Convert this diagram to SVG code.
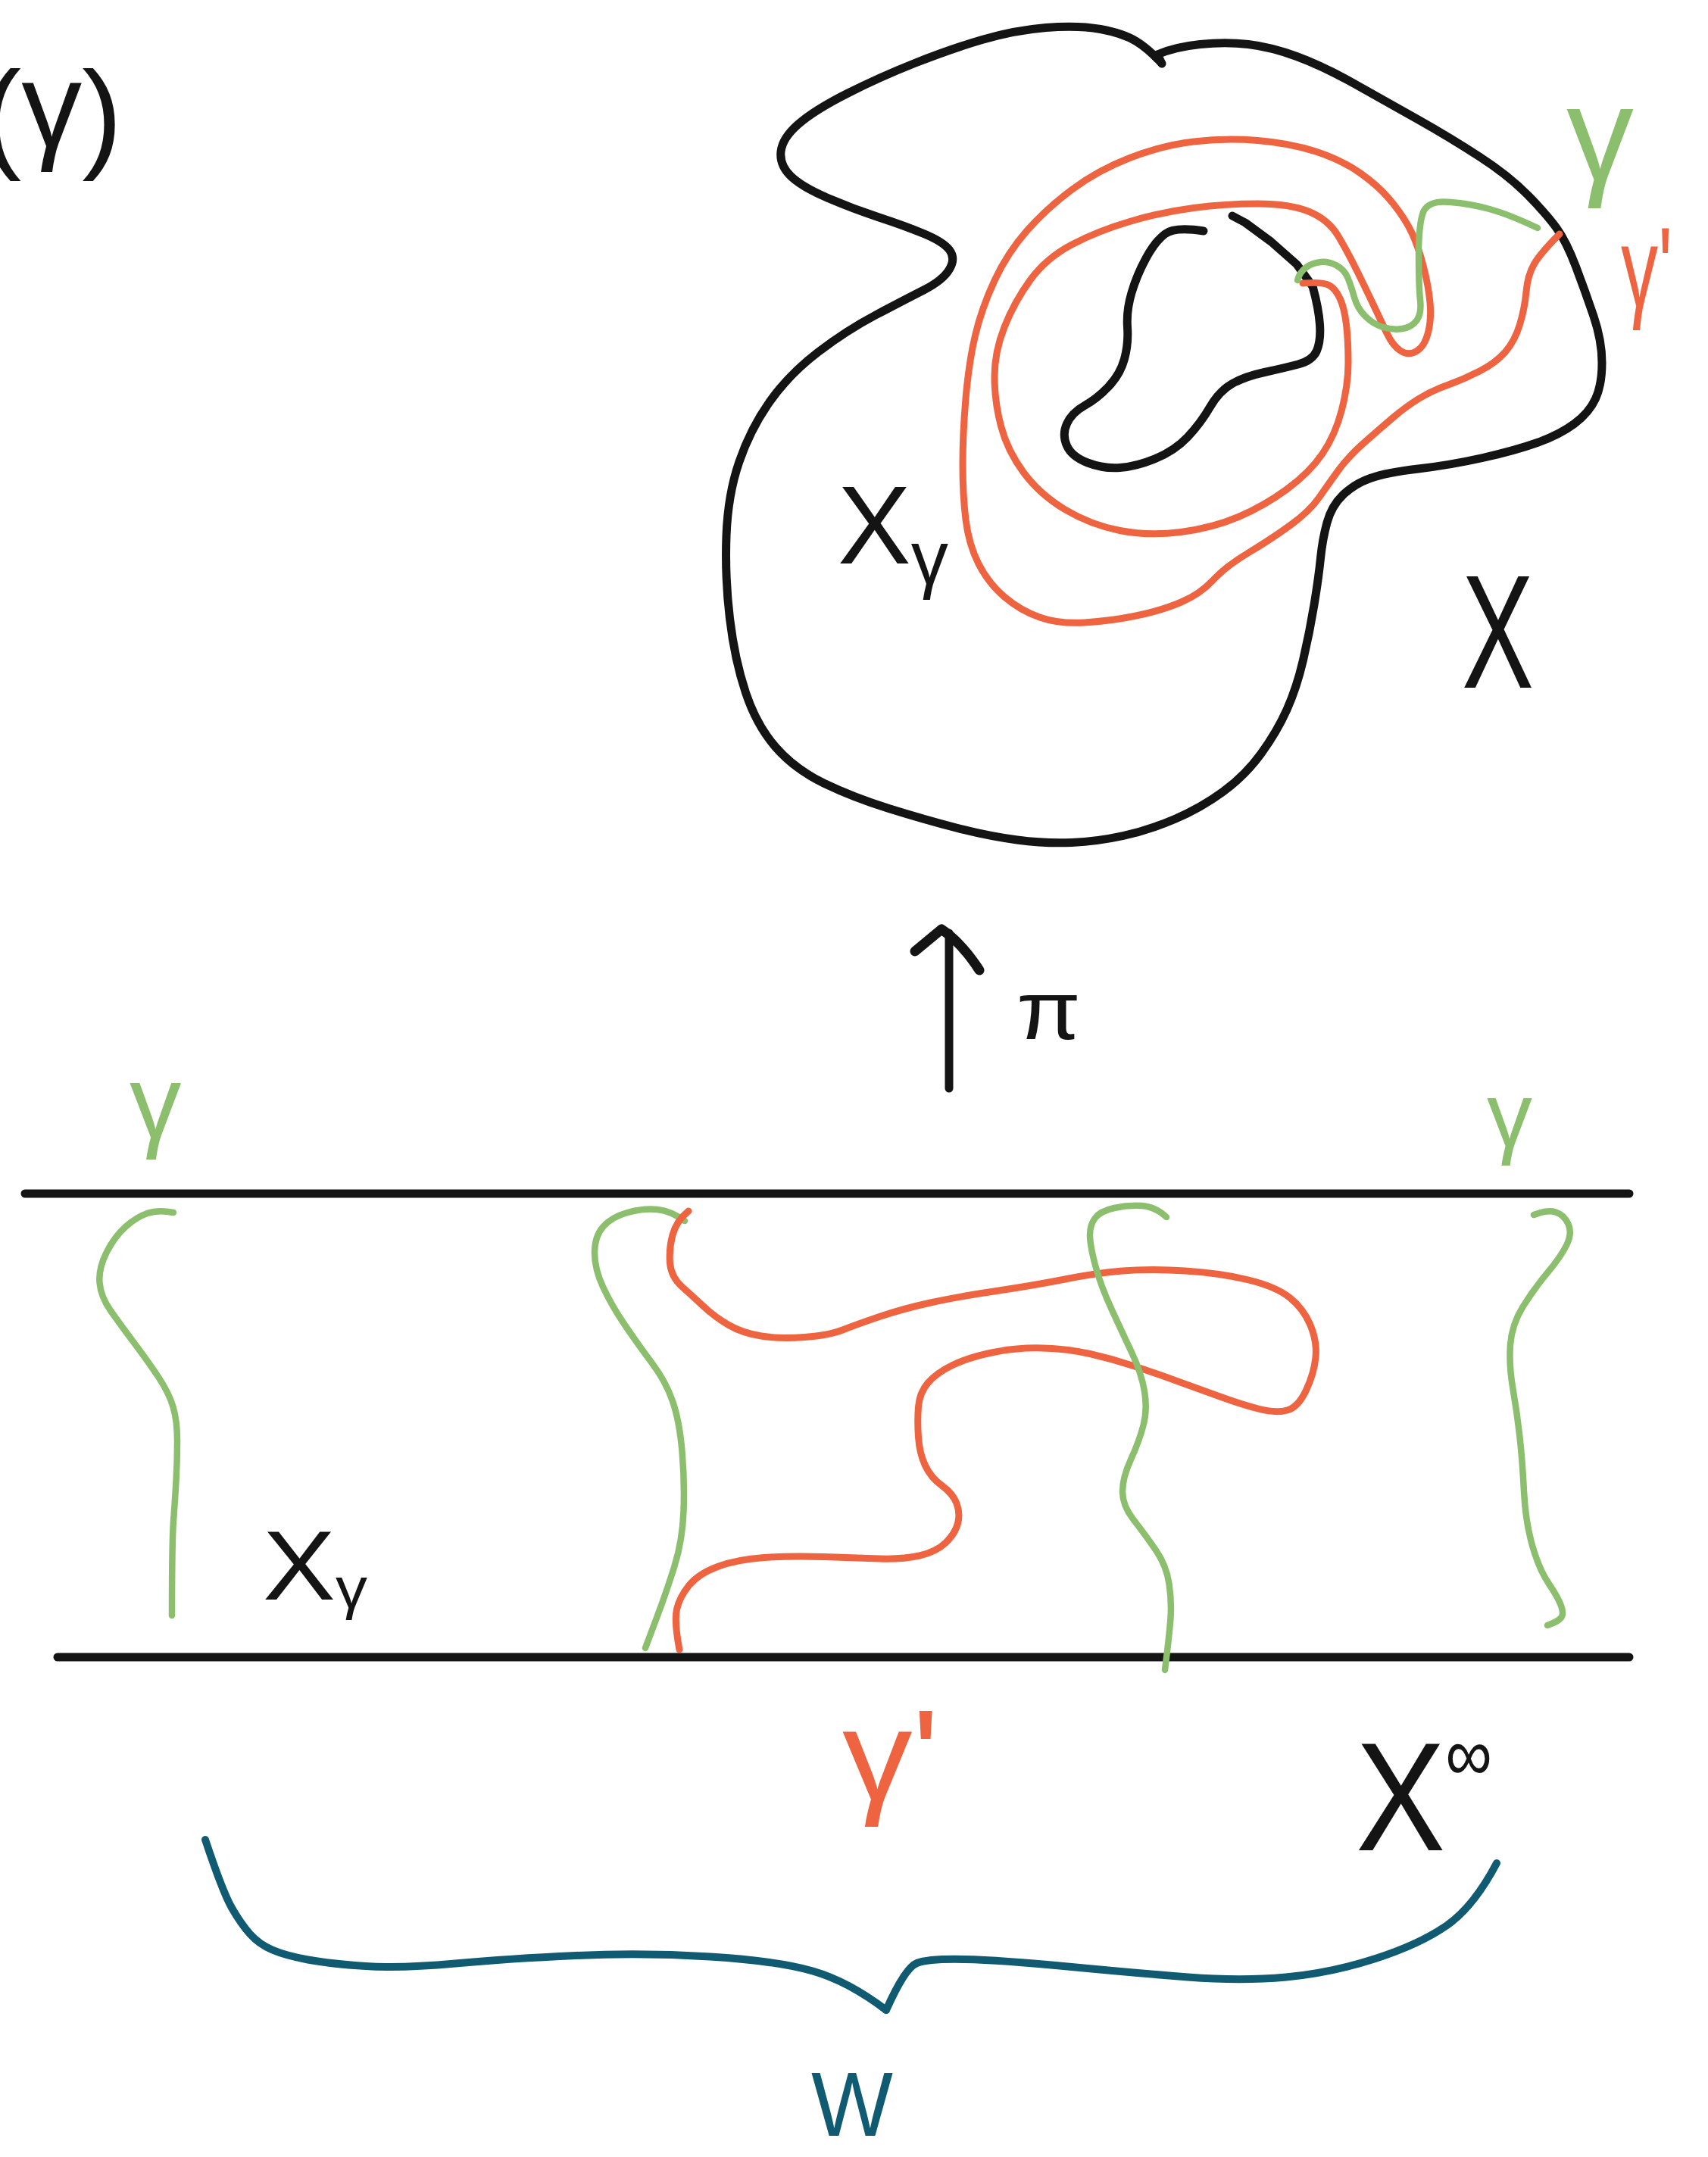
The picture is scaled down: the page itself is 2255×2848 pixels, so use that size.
<svg xmlns="http://www.w3.org/2000/svg" width="2255" height="2848" viewBox="0 0 2255 2848">
<style>
.ln{fill:none;stroke-linecap:round;stroke-linejoin:round}
.blk{stroke:#141414;stroke-width:11}
.red{stroke:#ee6441;stroke-width:9}
.grn{stroke:#8cbf6d;stroke-width:8.5}
.teal{stroke:#105b71;stroke-width:10}
.t{font-family:"Liberation Sans","DejaVu Sans",sans-serif}
.tb{fill:#141414}.tg{fill:#8cbf6d}.tr{fill:#ee6441}.tt{fill:#105b71}
</style>
<rect width="2255" height="2848" fill="#fff"/>
<text class="t tb" x="-25" y="206" font-size="160">(<tspan dy="-12">γ</tspan><tspan dy="12">)</tspan></text>
<g id="space-X">
<path class="ln blk" d="M1534,84 L1528,72 Q1551,62 1584.5,58.5 Q1618,55 1648,58.5 Q1678,62 1712,74.5 Q1746,87 1788,110.5 Q1830,134 1872.5,158 Q1915,182 1953.5,207 Q1992,232 2017,257.5 Q2042,283 2055,301 Q2068,319 2080.5,352 Q2093,385 2104,417.5 Q2115,450 2115,479 Q2115,508 2106.5,526.5 Q2098,545 2078.5,559.5 Q2059,574 2029.5,584.5 Q2000,595 1957.5,604.5 Q1915,614 1872.5,619 Q1830,624 1809,631.5 Q1788,639 1773,653.5 Q1758,668 1752,690 Q1746,712 1743.5,737 Q1741,762 1735,798.5 Q1729,835 1720.5,871.5 Q1712,908 1699,937 Q1686,966 1665,995 Q1644,1024 1614.5,1045.5 Q1585,1067 1551,1081.5 Q1517,1096 1483,1103.5 Q1449,1111 1415,1112.5 Q1381,1114 1343,1109 Q1305,1104 1262.5,1093 Q1220,1082 1173.5,1067.5 Q1127,1053 1088.5,1034.5 Q1050,1016 1024.5,987 Q999,958 984.5,914.5 Q970,871 963.5,816.5 Q957,762 959,707.5 Q961,653 976,609.5 Q991,566 1016.5,530 Q1042,494 1080,465 Q1118,436 1156,416 Q1194,396 1219.5,383 Q1245,370 1253.5,355.5 Q1262,341 1253.5,330 Q1245,319 1219.5,308.5 Q1194,298 1160.5,287 Q1127,276 1093,261.5 Q1059,247 1044,232.5 Q1029,218 1031,200 Q1033,182 1054.5,163.5 Q1076,145 1118.5,123.5 Q1161,102 1207.5,83.5 Q1254,65 1296.5,52.5 Q1339,40 1381,36.5 Q1423,33 1453,38.5 Q1483,44 1500,54.5 Q1517,65 1534,84"/>
<path class="ln blk" d="M1589,305 Q1551,299 1538,309 Q1525,319 1513,341 Q1501,363 1494,386.5 Q1487,410 1488.5,432 Q1490,454 1484.5,474 Q1479,494 1464,510 Q1449,526 1432,535.5 Q1415,545 1408.5,559.5 Q1402,574 1408.5,588.5 Q1415,603 1436,611 Q1457,619 1478.5,617.5 Q1500,616 1525.5,605.5 Q1551,595 1568,577 Q1585,559 1597.5,537.5 Q1610,516 1627,506.5 Q1644,497 1669.5,491.5 Q1695,486 1714,481 Q1733,476 1738.5,463 Q1744,450 1742.5,428.5 Q1741,407 1733,378"/>
<path class="ln blk" d="M1627,285 L1644,294 L1678,319 L1712,349 L1733,378"/>
<path class="ln red" d="M2059,309 Q2034,334 2025.5,348.5 Q2017,363 2015,385 Q2013,407 2006.5,428.5 Q2000,450 1987.5,464.5 Q1975,479 1953.5,490 Q1932,501 1911,508.5 Q1890,516 1873,526.5 Q1856,537 1839,551.5 Q1822,566 1801,584.5 Q1780,603 1767,621 Q1754,639 1741.5,657 Q1729,675 1703.5,693.5 Q1678,712 1648,730 Q1618,748 1601.5,766 Q1585,784 1559.5,795 Q1534,806 1500,813 Q1466,820 1432,822 Q1398,824 1372.5,815 Q1347,806 1326,788 Q1305,770 1292,744.5 Q1279,719 1275,686 Q1271,653 1271,613.5 Q1271,574 1275,526.5 Q1279,479 1287.5,443 Q1296,407 1313,370.5 Q1330,334 1355.5,305 Q1381,276 1415,250.5 Q1449,225 1491.5,208.5 Q1534,192 1576,187 Q1618,182 1660.5,185.5 Q1703,189 1737,200 Q1771,211 1796.5,229 Q1822,247 1839,268.5 Q1856,290 1864.5,308.5 Q1873,327 1879.5,352.5 Q1886,378 1888,399.5 Q1890,421 1885.5,439 Q1881,457 1870.5,463.5 Q1860,470 1849.5,463.5 Q1839,457 1830.5,439 Q1822,421 1813.5,403 Q1805,385 1792.5,359.5 Q1780,334 1767,312 Q1754,290 1728.5,279.5 Q1703,269 1660.5,269 Q1618,269 1576,274.5 Q1534,280 1491.5,292.5 Q1449,305 1415,323 Q1381,341 1360,370 Q1339,399 1326,432 Q1313,465 1313,497.5 Q1313,530 1321.5,562.5 Q1330,595 1351.5,624 Q1373,653 1406.5,673 Q1440,693 1478.5,700.5 Q1517,708 1559,702.5 Q1601,697 1635,682.5 Q1669,668 1699,646 Q1729,624 1746,599 Q1763,574 1771.5,541 Q1780,508 1780,479 Q1780,450 1777.5,428.5 Q1775,407 1769,394 Q1763,381 1754.5,376.5 Q1746,372 1720,374"/>
<path class="ln grn" d="M2030,301 Q1992,283 1966.5,276 Q1941,269 1915.5,267 Q1888,264 1880,278 Q1874,290 1873,327 Q1873,378 1875,396 Q1877,414 1870.5,423 Q1864,432 1851.5,434 Q1839,436 1826,432 Q1813,428 1802.5,417.5 Q1792,407 1788,392.5 Q1784,378 1779.5,367 Q1775,356 1764.5,350.5 Q1754,345 1743.5,346 Q1733,347 1724.5,353 Q1716,359 1713,370"/>
<text class="t tg" x="2068" y="238" font-size="178">γ</text>
<text class="t tr" x="2140" y="405" font-size="150" textLength="68" lengthAdjust="spacingAndGlyphs">γ'</text>
<text class="t tb" x="1106" y="744" font-size="147" textLength="146" lengthAdjust="spacingAndGlyphs">X<tspan font-size="100" dy="27">γ</tspan></text>
<text class="t tb" x="1930" y="908" font-size="214" textLength="95" lengthAdjust="spacingAndGlyphs">X</text>
</g>
<g id="connectors">
<path class="ln blk" d="M1253,1437 L1253,1232"/>
<path class="ln blk" style="stroke-width:13" d="M1208,1256 L1243,1227 Q1270,1245 1293,1281"/>
<text class="t tb" x="1342" y="1372" font-size="110" textLength="85" lengthAdjust="spacingAndGlyphs">π</text>
</g>
<g id="cover-Xinf">
<path class="ln blk" d="M33,1576 L2151,1576"/>
<path class="ln blk" d="M76,2188 L2151,2188"/>
<path class="ln grn" d="M229,1601 Q209,1597 194.5,1602 Q180,1607 165.5,1620 Q151,1633 140.5,1654 Q130,1675 131.5,1693.5 Q133,1712 146,1730.5 Q159,1749 177,1773 Q195,1797 209,1818 Q223,1839 228.5,1857.5 Q234,1876 234,1902.5 Q234,1929 232.5,1955.5 Q231,1982 229,2008.5 Q227,2035 227,2133"/>
<path class="ln grn" d="M904,1612 Q886,1599 868,1597 Q850,1595 828.5,1601 Q807,1607 796,1620 Q785,1633 785,1654 Q785,1675 796,1699 Q807,1723 825,1749.5 Q843,1776 861,1800 Q879,1824 888,1850 Q897,1876 900.5,1916 Q904,1956 902.5,1995.5 Q901,2035 890,2069.5 Q879,2104 870,2128 Q861,2152 852,2176"/>
<path class="ln red" d="M909,1599 Q893,1612 888,1630.5 Q883,1649 884.5,1667.5 Q886,1686 900.5,1699 Q915,1712 929.5,1725.5 Q944,1739 962,1749.5 Q980,1760 1005,1764 Q1030,1768 1062.5,1765.5 Q1095,1763 1112.5,1756 Q1130,1749 1161,1738.5 Q1192,1728 1228.5,1720 Q1265,1712 1315.5,1704.5 Q1366,1697 1406,1689 Q1446,1681 1482,1678 Q1518,1675 1565,1678 Q1612,1681 1648.5,1690 Q1685,1699 1703,1713.5 Q1721,1728 1730,1749.5 Q1739,1771 1737,1792 Q1735,1813 1724.5,1835.5 Q1714,1858 1699.5,1862 Q1685,1866 1663,1860.5 Q1641,1855 1612,1844.5 Q1583,1834 1554,1823.5 Q1525,1813 1496.5,1803.5 Q1468,1794 1439,1787.5 Q1410,1781 1377,1780 Q1344,1779 1311.5,1785.5 Q1279,1792 1257.5,1802.5 Q1236,1813 1225,1826 Q1214,1839 1212.5,1857.5 Q1211,1876 1212.5,1897.5 Q1214,1919 1221.5,1935 Q1229,1951 1243.5,1961.5 Q1258,1972 1263,1985 Q1268,1998 1264.5,2011.5 Q1261,2025 1248.5,2037 Q1236,2049 1214,2054 Q1192,2059 1161,2058 Q1130,2057 1087.5,2055.5 Q1045,2054 1009,2056.5 Q973,2059 947.5,2068.5 Q922,2078 909.5,2093.5 Q897,2109 893.5,2125 Q890,2141 897,2178"/>
<path class="ln grn" d="M1540,1607 Q1525,1593 1507,1592 Q1489,1591 1471,1595 Q1453,1599 1446,1608 Q1439,1617 1439,1630.5 Q1439,1644 1446,1670.5 Q1453,1697 1467.5,1728.5 Q1482,1760 1494.5,1786.5 Q1507,1813 1511,1837 Q1515,1861 1509.5,1882 Q1504,1903 1493,1927 Q1482,1951 1482,1969.5 Q1482,1988 1496.5,2006.5 Q1511,2025 1525.5,2046 Q1540,2067 1543.5,2091 Q1547,2115 1545.5,2136 Q1544,2157 1538,2205"/>
<path class="ln grn" d="M2025,1604 Q2043,1597 2054,1600.5 Q2065,1604 2070.5,1616 Q2076,1628 2068.5,1643.5 Q2061,1659 2043,1680.5 Q2025,1702 2010.5,1725.5 Q1996,1749 1994,1775.5 Q1992,1802 1997.5,1834 Q2003,1866 2006.5,1897.5 Q2010,1929 2012,1969 Q2014,2009 2023,2040.5 Q2032,2072 2044.5,2090.5 Q2057,2109 2061,2120 Q2065,2131 2061,2136 Q2057,2141 2043,2146"/>
<text class="t tg" x="171" y="1503" font-size="137">γ</text>
<text class="t tg" x="1963" y="1514" font-size="120">γ</text>
<text class="t tb" x="347" y="2112" font-size="130" textLength="138" lengthAdjust="spacingAndGlyphs">X<tspan font-size="76" dy="11">γ</tspan></text>
<text class="t tr" x="1112" y="2377" font-size="171" textLength="128" lengthAdjust="spacingAndGlyphs">γ'</text>
<text class="t tb" x="1790" y="2443" font-size="205" textLength="180" lengthAdjust="spacingAndGlyphs">X<tspan font-size="100" dy="-92">∞</tspan></text>
</g>
<g id="brace-W">
<path class="ln teal" d="M271,2429 Q294,2498 306,2519 Q318,2540 330,2553.5 Q342,2567 359.5,2574.5 Q377,2582 406.5,2587.5 Q436,2593 483,2596 Q530,2599 601,2592.5 Q672,2586 760.5,2582 Q849,2578 937.5,2583.5 Q1026,2589 1073,2602.5 Q1120,2616 1170,2654"/>
<path class="ln teal" d="M1170,2654 Q1195,2598 1210.5,2592 Q1226,2586 1273.5,2587 Q1321,2588 1409.5,2596.5 Q1498,2605 1568.5,2610.5 Q1639,2616 1698,2610.5 Q1757,2605 1816,2586 Q1875,2567 1910.5,2542 Q1946,2517 1976,2460"/>
<text class="t tt" x="1071" y="2820" font-size="120" textLength="108" lengthAdjust="spacingAndGlyphs">W</text>
</g>
</svg>
